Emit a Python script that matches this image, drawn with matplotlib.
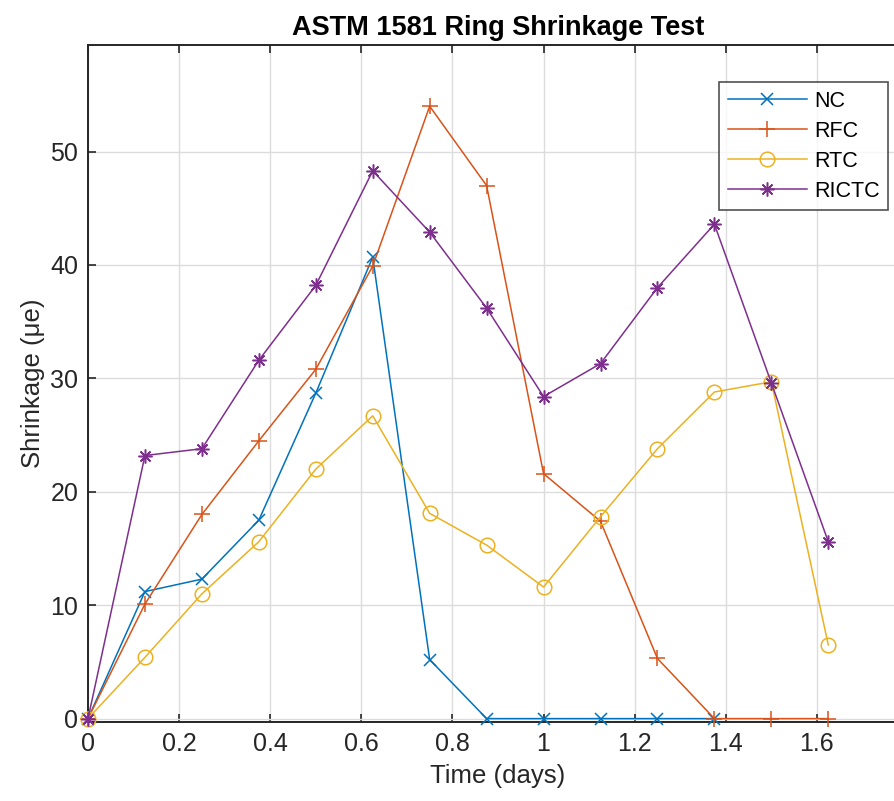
import matplotlib
matplotlib.use("Agg")
import matplotlib.pyplot as plt

nan = float("nan")

# time in days and shrinkage readings per mix
time_days = [0, 0.125, 0.25, 0.375, 0.5, 0.625, 0.75, 0.875, 1.0, 1.125, 1.25, 1.375, 1.5, 1.625]
nc = [0, 11.2, 12.3, 17.5, 28.7, 40.7, 5.2, 0, 0, 0, 0, 0, nan, nan]
rfc = [0, 10.1, 18.0, 24.5, 30.8, 39.9, 54.0, 47.0, 21.6, 17.4, 5.3, 0, 0, 0]
rtc = [0, 5.4, 11.0, 15.6, 22.0, 26.7, 18.1, 15.3, 11.6, 17.8, 23.8, 28.8, 29.7, 6.5]
rictc = [0, 23.2, 23.8, 31.6, 38.2, 48.3, 42.9, 36.2, 28.4, 31.3, 38.0, 43.6, 29.6, 15.6]

series_names = ["NC", "RFC", "RTC", "RICTC"]
x_ticks = [0, 0.2, 0.4, 0.6, 0.8, 1.0, 1.2, 1.4, 1.6]
x_tick_labels = ["0", "0.2", "0.4", "0.6", "0.8", "1", "1.2", "1.4", "1.6"]
y_ticks = [0, 10, 20, 30, 40, 50]

plt.rcParams["font.family"] = ["Liberation Sans", "DejaVu Sans"]

W, H = 894, 801
fig = plt.figure(figsize=(W / 100, H / 100), dpi=100)
# axes right edge lies past the picture edge (cropped like the reference)
left, right, top, bottom = 88, 908, 45, 722
ax = fig.add_axes([left / W, 1 - bottom / H, (right - left) / W, (bottom - top) / H])

# matlab-like asterisk: + and x overlaid
asterisk = (8, 2, 0)
styles = [
    (nc, "#0072BD", "x", 8),
    (rfc, "#D95319", "+", 11),
    (rtc, "#EDB120", "o", 10.5),
    (rictc, "#7E2F8E", asterisk, 10),
]
for (vals, col, mk, ms), name in zip(styles, series_names):
    ax.plot(time_days, vals, color=col, marker=mk, markersize=ms,
            markerfacecolor="none", markeredgecolor=col, markeredgewidth=1.1,
            linewidth=1.1, label=name, clip_on=False, zorder=3)

ax.set_xlim(0, 1.8)
ax.set_ylim(-0.3, 59.4)
ax.set_xticks(x_ticks)
ax.set_xticklabels(x_tick_labels)
ax.set_yticks(y_ticks)
ax.grid(True, color="#dcdcdc", linewidth=1.0)
ax.set_axisbelow(True)
ax.tick_params(direction="in", length=6, width=1.2, top=True, right=True,
               labelsize=18, colors="#262626", pad=7)
for s in ax.spines.values():
    s.set_color("#262626")
    s.set_linewidth(1.4)

ax.set_title("ASTM 1581 Ring Shrinkage Test", fontsize=19.5, fontweight="bold", pad=7)
ax.set_xlabel("Time (days)", fontsize=18.5, color="#262626", labelpad=6)
ax.set_ylabel("Shrinkage (\u03bce)", fontsize=18.5, color="#262626", labelpad=4)

leg = ax.legend(loc="upper right", bbox_to_anchor=(888 / W, 1 - 82 / H),
                bbox_transform=fig.transFigure, borderaxespad=0, fontsize=15.5,
                frameon=True, fancybox=False, edgecolor="#262626",
                handlelength=3.7, handletextpad=0.3, labelspacing=0.42,
                borderpad=0.4)
leg.get_frame().set_linewidth(1.2)
leg.set_zorder(5)

fig.savefig("out.png", dpi=100)
